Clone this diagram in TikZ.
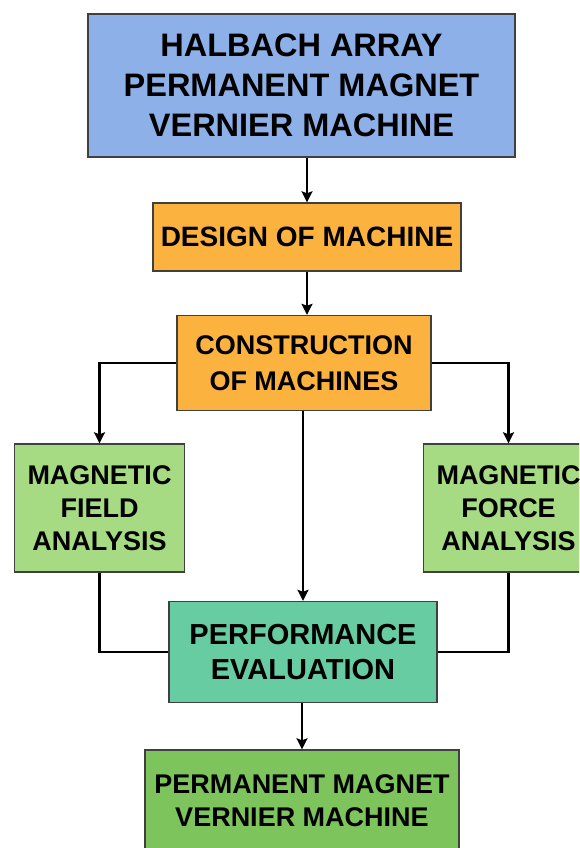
\documentclass[tikz,border=0pt]{standalone}
\usepackage{fontspec}
\setmainfont{Liberation Sans}
\usetikzlibrary{arrows.meta}

\definecolor{topblue}{RGB}{141,176,232}
\definecolor{steporange}{RGB}{251,178,62}
\definecolor{leafgreen}{RGB}{166,219,132}
\definecolor{evalteal}{RGB}{104,204,162}
\definecolor{endgreen}{RGB}{126,196,92}

\tikzset{
  block/.style={draw=black!75, line width=1.4pt, align=center, inner sep=0pt, font=\bfseries},
  arr/.style={-{Stealth[length=11pt,width=11pt,inset=2pt]}, line width=2.2pt},
  link/.style={line width=2.2pt}
}

\begin{document}
\begin{tikzpicture}[x=1pt,y=-1pt]
    \clip (0,0) rectangle (579,848);
    \fill[white] (0,0) rectangle (579,848);
    % boxes of the flow
    \node[block, fill=topblue, minimum width=427pt, minimum height=143pt,
          font=\bfseries\fontsize{32.5}{40}\selectfont] (halbach) at (301.5,85.5)
          {HALBACH ARRAY\\PERMANENT MAGNET\\VERNIER MACHINE};
    \node[block, fill=steporange, minimum width=308pt, minimum height=68pt,
          font=\bfseries\fontsize{28}{34}\selectfont] (design) at (307,237) {DESIGN OF MACHINE};
    \node[block, fill=steporange, minimum width=254pt, minimum height=95pt,
          font=\bfseries\fontsize{27}{36}\selectfont] (build) at (304,363) {CONSTRUCTION\\OF MACHINES};
    \node[block, fill=leafgreen, minimum width=170pt, minimum height=128pt,
          font=\bfseries\fontsize{27}{33}\selectfont] (field) at (99.5,508) {MAGNETIC\\FIELD\\ANALYSIS};
    \node[block, fill=leafgreen, minimum width=170pt, minimum height=128pt,
          font=\bfseries\fontsize{27}{33}\selectfont] (force) at (508.5,508) {MAGNETIC\\FORCE\\ANALYSIS};
    \node[block, fill=evalteal, minimum width=268pt, minimum height=101pt,
          font=\bfseries\fontsize{29}{35}\selectfont] (perf) at (303,652) {PERFORMANCE\\EVALUATION};
    \node[block, fill=endgreen, minimum width=314pt, minimum height=102pt,
          font=\bfseries\fontsize{27}{33}\selectfont] (pmvm) at (302,801) {PERMANENT MAGNET\\VERNIER MACHINE};
    % connectors
    \draw[arr] (design.north |- halbach.south) -- (design.north);
    \draw[arr] (design.south) -- (design.south |- build.north);
    \draw[arr] (build.west) -| (field.north);
    \draw[arr] (build.east) -| (force.north);
    \draw[arr] (build.south -| perf.north) -- (perf.north);
    \draw[link] (field.south) |- (perf.west);
    \draw[link] (force.south) |- (perf.east);
    \draw[arr] (perf.south -| pmvm.north) -- (pmvm.north);
\end{tikzpicture}
\end{document}
